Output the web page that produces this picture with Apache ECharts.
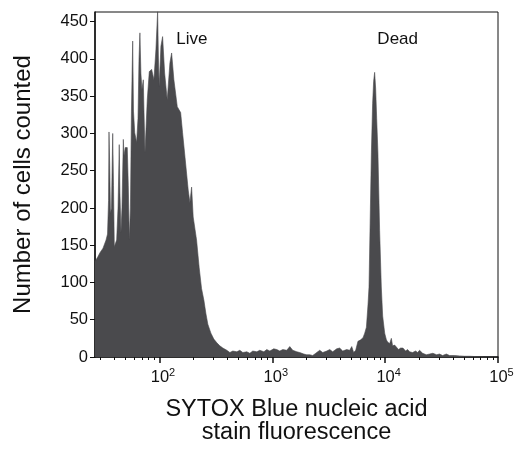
<!DOCTYPE html>
<html>
<head>
<meta charset="utf-8">
<script src="https://cdn.jsdelivr.net/npm/echarts@6/dist/echarts.min.js"></script>
<style>
  html, body { margin: 0; padding: 0; background: #fff; }
  #chart { width: 517px; height: 450px; }
</style>
</head>
<body>
<div id="chart"></div>
<script>
// x position as log10(fluorescence)
const logFluor = [
  1.429, 1.438, 1.456, 1.473, 1.500, 1.527, 1.540, 1.549, 1.553, 1.559,
  1.566, 1.575, 1.586, 1.593, 1.600, 1.621, 1.633, 1.644, 1.650, 1.659,
  1.668, 1.680, 1.686, 1.697, 1.715, 1.724, 1.733, 1.743, 1.752, 1.763,
  1.770, 1.781, 1.798, 1.810, 1.819, 1.827, 1.836, 1.845, 1.857, 1.863,
  1.872, 1.892, 1.910, 1.931, 1.951, 1.969, 1.984, 1.991, 1.998, 2.013,
  2.028, 2.046, 2.069, 2.093, 2.108, 2.128, 2.158, 2.188, 2.205, 2.226,
  2.255, 2.270, 2.285, 2.299, 2.329, 2.352, 2.373, 2.394, 2.412, 2.429,
  2.456, 2.482, 2.509, 2.535, 2.562, 2.597, 2.624, 2.650, 2.686, 2.712,
  2.739, 2.774, 2.801, 2.827, 2.863, 2.889, 2.925, 2.951, 2.978, 3.013,
  3.040, 3.066, 3.093, 3.128, 3.155, 3.181, 3.217, 3.243, 3.279, 3.305,
  3.332, 3.358, 3.385, 3.420, 3.447, 3.482, 3.509, 3.535, 3.571, 3.597,
  3.624, 3.659, 3.686, 3.704, 3.721, 3.739, 3.759, 3.783, 3.804, 3.819,
  3.834, 3.848, 3.857, 3.867, 3.878, 3.889, 3.898, 3.907, 3.916, 3.925,
  3.936, 3.951, 3.966, 3.978, 3.996, 4.011, 4.022, 4.040, 4.055, 4.066,
  4.084, 4.099, 4.119, 4.137, 4.158, 4.181, 4.199, 4.217, 4.243, 4.270,
  4.288, 4.305, 4.332, 4.365, 4.394, 4.423, 4.456, 4.482, 4.509, 4.542,
  4.571, 4.615, 4.659, 4.704, 4.748, 4.807, 4.881, 4.996
];
const counts = [
  128, 126, 135, 140, 146, 157, 165, 210, 302, 260,
  193, 200, 300, 230, 148, 157, 200, 285, 220, 167,
  200, 292, 270, 281, 281, 230, 157, 200, 330, 424,
  330, 301, 288, 320, 400, 435, 380, 359, 372, 330,
  274, 345, 383, 386, 372, 413, 464, 400, 363, 417,
  430, 381, 345, 395, 408, 372, 336, 328, 301, 269,
  224, 207, 228, 188, 157, 120, 92, 76, 58, 44,
  32, 24, 19, 15, 12, 9, 6, 8, 7, 9,
  6, 7, 5, 8, 7, 9, 7, 10, 8, 11,
  10, 8, 10, 9, 14, 9, 7, 6, 4, 3,
  3, 2, 5, 9, 6, 8, 10, 7, 11, 12,
  8, 10, 9, 14, 6, 9, 21, 23, 26, 32,
  40, 70, 94, 180, 274, 340, 370, 382, 360, 320,
  274, 170, 94, 55, 32, 23, 20, 18, 25, 15,
  16, 14, 10, 12, 12, 8, 10, 7, 6, 8,
  6, 9, 5, 3, 4, 5, 3, 4, 2, 4,
  2, 2, 1.5, 1, 1, 0.5, 0, 0
];
const xDecades = [2, 3, 4, 5];
const yTicks = [0, 50, 100, 150, 200, 250, 300, 350, 400, 450];
const annotationText = ['Live', 'Dead'];
const annotationX = [2.288, 4.111];
const annotationY = [426, 426];

const FONT = '"Liberation Sans", Arial, Helvetica, sans-serif';
const X_MIN = 1.429, X_MAX = 5, Y_MAX = 463;

const minorTicks = [];
for (let n = 1; n <= 4; n++) {
  for (let k = 2; k <= 9; k++) {
    const v = n + Math.log10(k);
    if (v > X_MIN && v < X_MAX) minorTicks.push(v);
  }
}

const seriesData = logFluor.map((x, i) => [x, counts[i]]);

const chart = echarts.init(document.getElementById('chart'), null, { renderer: 'canvas' });
chart.setOption({
  animation: false,
  backgroundColor: '#fff',
  grid: {
    left: 95, right: 19, top: 12, bottom: 93,
    show: true, borderColor: '#111', borderWidth: 1
  },
  xAxis: [
    {
      type: 'value', min: X_MIN, max: X_MAX, position: 'bottom',
      axisLine: { show: true, lineStyle: { color: '#111', width: 1.5 } },
      axisTick: { show: true, customValues: xDecades, length: 6, lineStyle: { color: '#111', width: 1.5 } },
      axisLabel: {
        customValues: xDecades, margin: 10, color: '#111', fontFamily: FONT,
        formatter: v => '{b|10}{s|' + v + '}',
        rich: {
          b: { fontSize: 16.5, fontFamily: FONT, color: '#111', padding: [0, 0, 0, 7] },
          s: { fontSize: 11, fontFamily: FONT, color: '#111', padding: [0, 0, 9, 0] }
        }
      },
      splitLine: { show: false },
      name: 'SYTOX Blue nucleic acid\nstain fluorescence',
      nameLocation: 'middle', nameGap: 41,
      nameTextStyle: { fontSize: 23.5, lineHeight: 23, color: '#111', fontFamily: FONT }
    },
    {
      type: 'value', min: X_MIN, max: X_MAX, position: 'bottom',
      axisLine: { show: false },
      axisTick: { show: true, customValues: minorTicks, length: 3, lineStyle: { color: '#111', width: 1 } },
      axisLabel: { show: false },
      splitLine: { show: false }
    }
  ],
  yAxis: {
    type: 'value', min: 0, max: Y_MAX,
    axisLine: { show: true, lineStyle: { color: '#111', width: 1.5 } },
    axisTick: { show: true, customValues: yTicks, length: 5, lineStyle: { color: '#111', width: 1 } },
    axisLabel: { customValues: yTicks, margin: 7, fontSize: 16.5, color: '#111', fontFamily: FONT },
    splitLine: { show: false },
    name: 'Number of cells counted',
    nameLocation: 'middle', nameGap: 60,
    nameTextStyle: { fontSize: 24, color: '#111', fontFamily: FONT }
  },
  series: [
    {
      type: 'line', xAxisIndex: 0, yAxisIndex: 0,
      data: seriesData,
      showSymbol: false, symbol: 'none',
      lineStyle: { color: '#4a4a4d', width: 0.6 },
      areaStyle: { color: '#4a4a4d', opacity: 1 }
    }
  ]
});

// place annotation text at data coordinates via the chart's own scales
const annoGraphics = annotationText.map((t, i) => {
  const p = chart.convertToPixel({ xAxisIndex: 0, yAxisIndex: 0 }, [annotationX[i], annotationY[i]]);
  return {
    type: 'text', x: p[0], y: p[1], z: 100,
    style: {
      text: t, fill: '#111', fontSize: 17, fontFamily: FONT,
      align: 'center', verticalAlign: 'middle'
    }
  };
});
chart.setOption({ graphic: annoGraphics });
</script>
</body>
</html>
